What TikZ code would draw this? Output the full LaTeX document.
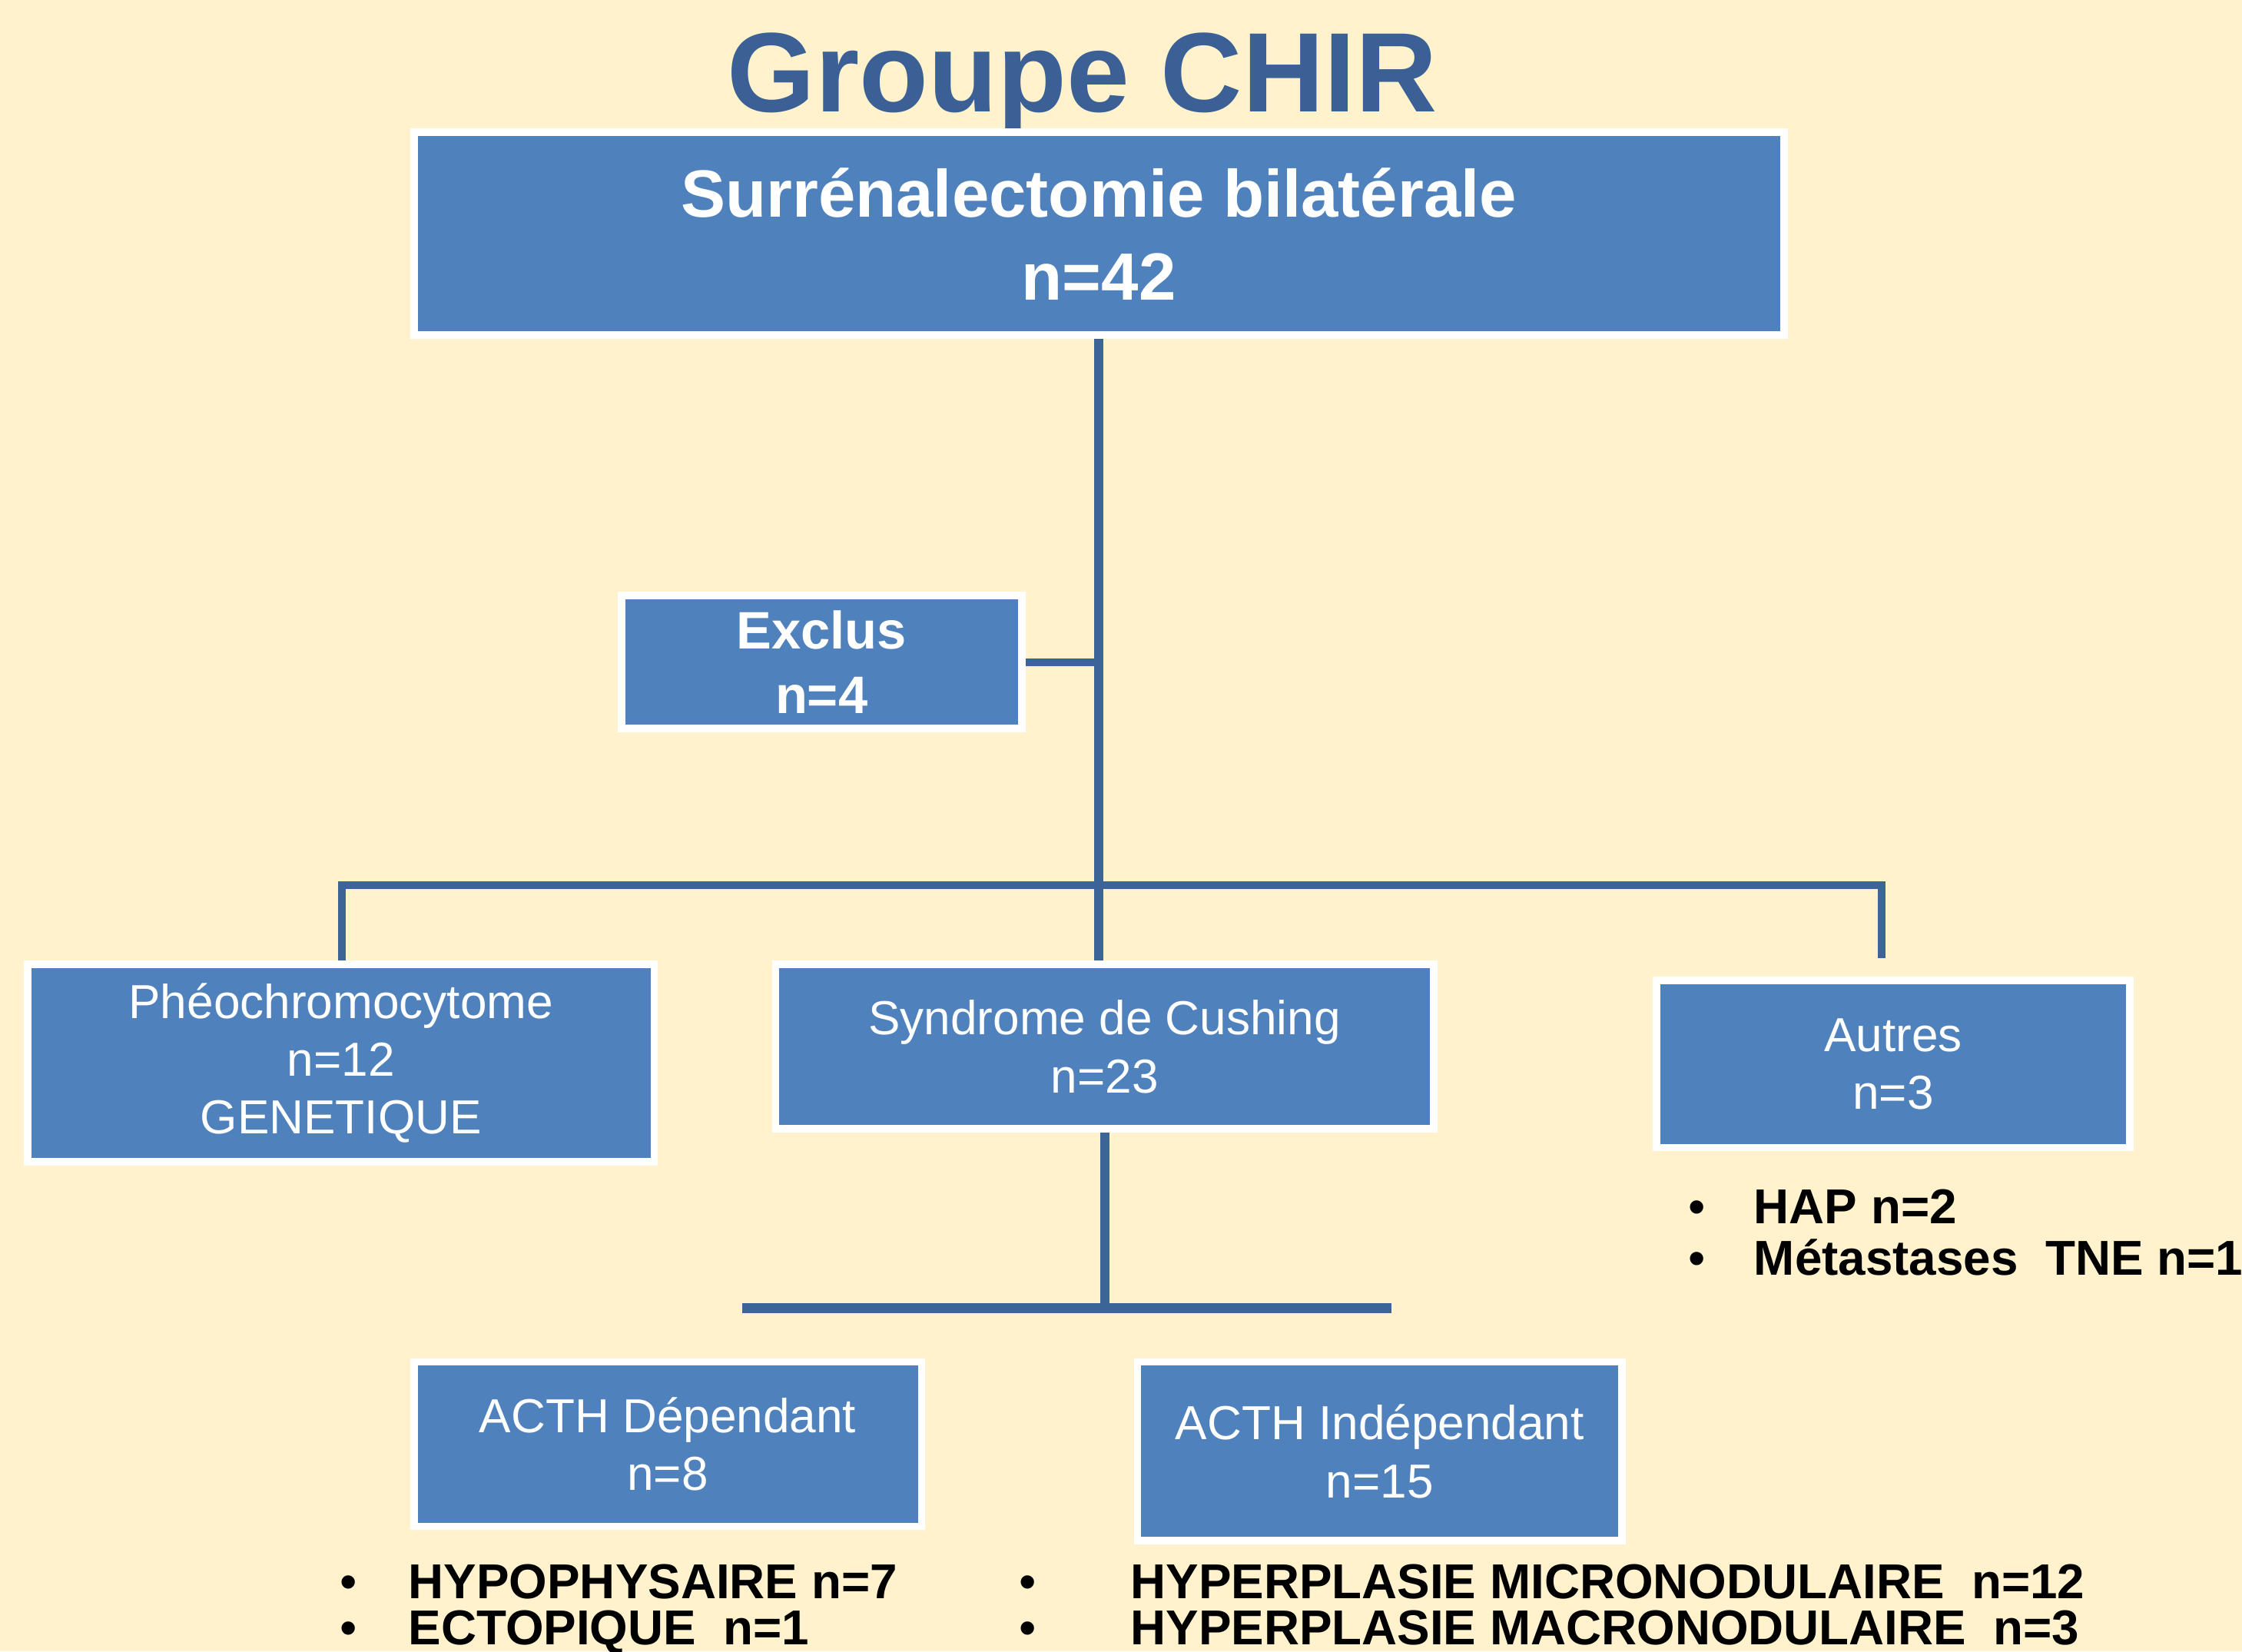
\documentclass[tikz,border=0pt]{standalone}
\usepackage{fontspec}
\setmainfont{Liberation Sans}
\usetikzlibrary{positioning}
\definecolor{bgyellow}{HTML}{FFF2CC}
\definecolor{boxblue}{HTML}{4F81BD}
\definecolor{linkblue}{HTML}{3C6496}
\definecolor{titleblue}{HTML}{3A6095}

\begin{document}
\begin{tikzpicture}[
  box/.style={rectangle,fill=boxblue,draw=white,line width=1.5pt,text=white,align=center,inner sep=0pt},
  link/.style={draw=linkblue,line width=1.5pt},
  plaintext/.style={font=\fontsize{9.5}{11.5}\selectfont},
  bulletdot/.style={font=\fontsize{9.75}{11}\selectfont,text=black,anchor=base,inner sep=0pt},
  bullettext/.style={font=\fontsize{9.75}{11}\selectfont\bfseries,text=black,anchor=base west,inner sep=0pt}
]
\useasboundingbox (0,0) rectangle (15.68,11.55);
\fill[bgyellow] (0,0) rectangle (15.68,11.55);

\node[font=\fontsize{22.5}{27}\selectfont\bfseries,text=titleblue,anchor=base,inner sep=0pt] (title) at (7.57,10.77) {Groupe CHIR};

\node[box,minimum width=9.58cm,minimum height=1.42cm,font=\fontsize{13.3}{16.5}\selectfont\bfseries] (root) at (7.685,9.915) {Surrénalectomie bilatérale\\n=42};
\node[box,minimum width=2.80cm,minimum height=0.93cm,font=\fontsize{10.5}{12.8}\selectfont\bfseries] (exclus) at (5.745,6.92) {Exclus\\n=4};

\node[box,plaintext,minimum width=4.38cm,minimum height=1.38cm] (pheo) at (2.385,4.115) {Phéochromocytome\\n=12\\GENETIQUE};
\node[box,plaintext,minimum width=4.60cm,minimum height=1.15cm] (cushing) at (7.725,4.23) {Syndrome de Cushing\\n=23};
\node[box,plaintext,minimum width=3.31cm,minimum height=1.17cm] (autres) at (13.24,4.11) {Autres\\n=3};

\node[box,plaintext,minimum width=3.55cm,minimum height=1.15cm] (acthdep) at (4.67,1.45) {ACTH\ Dépendant\\n=8};
\node[box,plaintext,minimum width=3.39cm,minimum height=1.25cm] (acthind) at (9.65,1.40) {ACTH\ Indépendant\\n=15};

\coordinate (barL) at (2.39,5.36);
\coordinate (barR) at (13.16,5.36);
\coordinate (autresTop) at (13.16,4.85);
\coordinate (subL) at (5.19,2.40);
\coordinate (subR) at (9.73,2.40);

\draw[link,line width=1.8pt] (root.south) -- (root.south |- cushing.north);
\draw[link] (exclus.east) -- (exclus.east -| root.south);
\draw[link] (barL |- pheo.north) -- (barL) -- (barR) -- (autresTop);
\draw[link,line width=1.8pt] (cushing.south) -- (cushing.south |- subL);
\draw[link,line width=2pt] (subL) -- (subR);

\node[bulletdot] (hapdot) at (11.87,2.99) {\textbullet};
\node[bullettext] (hap) at (12.26,2.99) {HAP n=2};
\node[bulletdot] (metadot) at (11.87,2.63) {\textbullet};
\node[bullettext] (meta) at (12.26,2.63) {Métastases\ \ TNE n=1};

\node[bulletdot] (hypodot) at (2.44,0.37) {\textbullet};
\node[bullettext] (hypo) at (2.85,0.37) {HYPOPHYSAIRE n=7};
\node[bulletdot] (ectodot) at (2.44,0.05) {\textbullet};
\node[bullettext] (ecto) at (2.85,0.05) {ECTOPIQUE\ \ n=1};

\node[bulletdot] (microdot) at (7.19,0.37) {\textbullet};
\node[bullettext] (micro) at (7.90,0.37) {HYPERPLASIE MICRONODULAIRE\ \ n=12};
\node[bulletdot] (macrodot) at (7.19,0.05) {\textbullet};
\node[bullettext] (macro) at (7.90,0.05) {HYPERPLASIE MACRONODULAIRE\ \ n=3};

\end{tikzpicture}
\end{document}
